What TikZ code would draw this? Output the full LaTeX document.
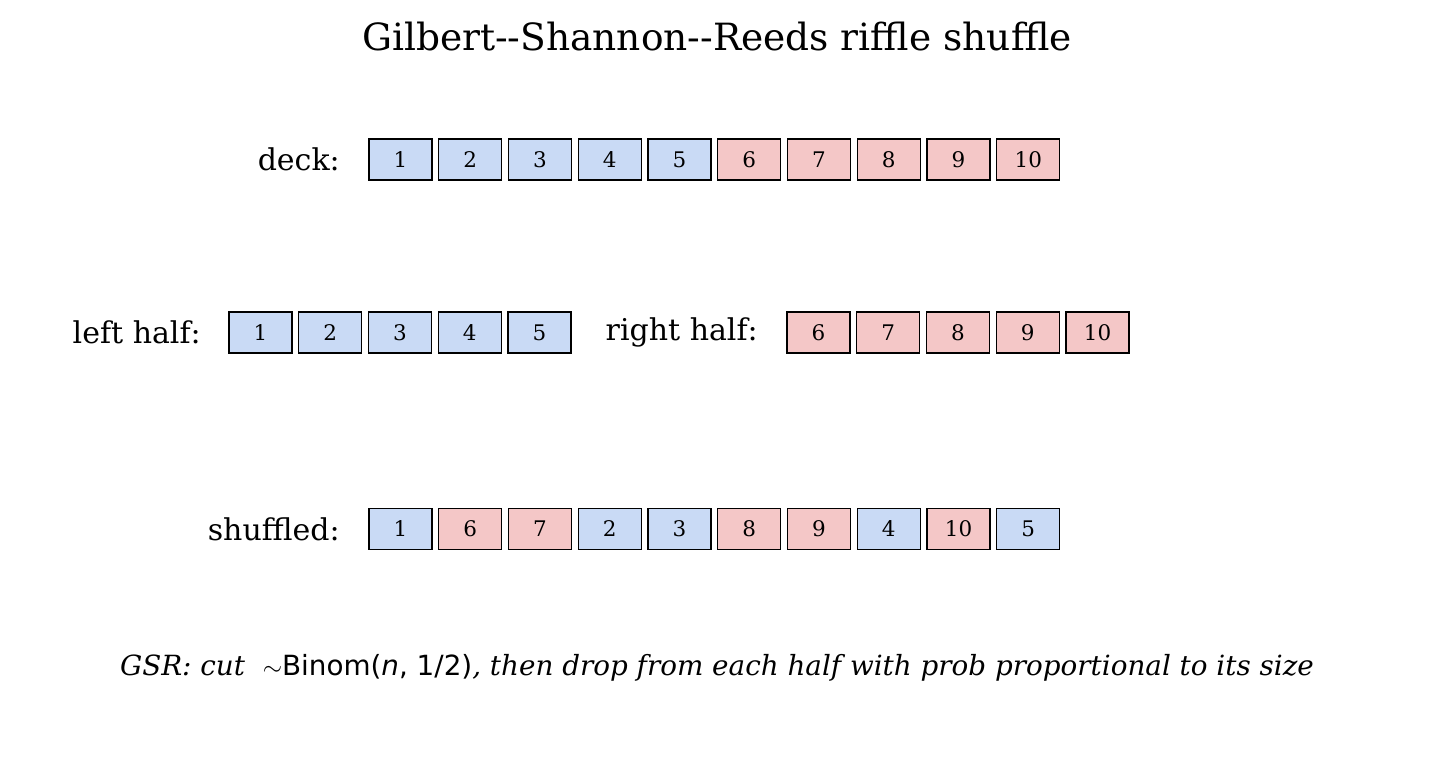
\documentclass[tikz,border=0pt]{standalone}
\usepackage{fontspec}
\setmainfont{DejaVu Serif}
\newfontfamily\dvs{DejaVu Sans}
\begin{document}
\begin{tikzpicture}[x=1pt,y=-1pt,
  card/.style={draw=black,line width=1.3pt,minimum width=63pt,minimum height=41pt,inner sep=0pt,font=\fontsize{21.5}{21.5}\selectfont},
  bl/.style={card,fill=cardblue},
  rd/.style={card,fill=cardred},
  lab/.style={anchor=east,font=\fontsize{30}{30}\selectfont,inner sep=0pt}]
\definecolor{cardblue}{HTML}{C9DAF5}
\definecolor{cardred}{HTML}{F4C7C7}
\useasboundingbox (0,0) rectangle (1434,777);
\node[font=\fontsize{37.5}{37.5}\selectfont] (title) at (717,37) {Gilbert{-}{-}Shannon{-}{-}Reeds riffle shuffle};
\node[lab] (ldeck) at (340,159.5) {deck:};
\foreach \n [count=\i from 0] in {1,...,10}{
  \pgfmathtruncatemacro\isb{\n<6}
  \ifnum\isb=1 \node[bl] (d\n) at (400.5+69.75*\i,159.5) {\n};
  \else \node[rd] (d\n) at (400.5+69.75*\i,159.5) {\n}; \fi}
\node[lab] (lleft) at (201,332.5) {left half:};
\foreach \n [count=\i from 0] in {1,...,5}
  \node[bl] (l\n) at (260.5+69.75*\i,332.5) {\n};
\node[lab] (lright) at (758,332.5) {right half:};
\foreach \n [count=\i from 0] in {6,...,10}
  \node[rd] (r\n) at (818.5+69.75*\i,332.5) {\n};
\node[lab] (lshuf) at (340,529) {shuffled:};
\foreach \n/\s [count=\i from 0] in {1/bl,6/rd,7/rd,2/bl,3/bl,8/rd,9/rd,4/bl,10/rd,5/bl}
  \node[\s] (s\n) at (400.5+69.75*\i,529) {\n};
\node[font=\fontsize{27.8}{27.8}\selectfont] (note) at (717,668) {\itshape GSR: cut \ {\dvs\upshape$\sim$Binom(\textit{n}, 1/2)}, then drop from each half with prob proportional to its size};
\end{tikzpicture}
\end{document}
